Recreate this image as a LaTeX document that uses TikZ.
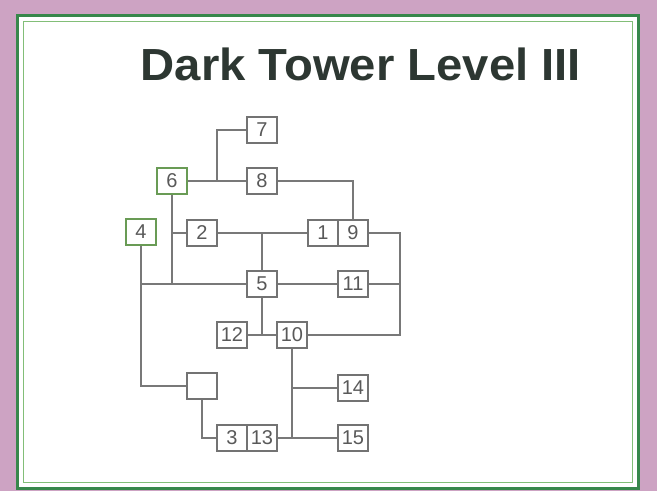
\documentclass[tikz,border=0pt]{standalone}
\usepackage{fontspec}
\setmainfont{Liberation Sans}
\usepackage{tikz}
\usetikzlibrary{calc}

\definecolor{backpink}{RGB}{205,163,195}
\definecolor{framegreen}{RGB}{55,135,75}
\definecolor{innergreen}{RGB}{130,190,120}
\definecolor{boxgrey}{RGB}{115,115,115}
\definecolor{wiregrey}{RGB}{120,120,120}
\definecolor{roomgreen}{RGB}{105,155,85}
\definecolor{titlegrey}{RGB}{45,55,50}

\tikzset{
    room/.style={draw=boxgrey, line width=1.3pt, fill=white, minimum width=30pt,
        minimum height=26pt, inner sep=0pt, text=black!65, font=\fontsize{20}{20}\selectfont},
    startroom/.style={room, draw=roomgreen},
    wire/.style={draw=wiregrey, line width=1.2pt}
}

\begin{document}
\begin{tikzpicture}[x=1pt,y=-1pt]
            \useasboundingbox (0,0) rectangle (657,491);
            \fill[backpink] (0,0) rectangle (657,491);
            \fill[white] (17,15) rectangle (638,488);
            \draw[framegreen, line width=3pt] (17,15) rectangle (638,488);
            \draw[innergreen, line width=0.8pt] (23,21) rectangle (632,482);

            \node[anchor=base west, text=titlegrey, xscale=1.05,
                font=\fontsize{45}{45}\selectfont\bfseries] (title) at (137,80) {Dark Tower Level III};

            % rooms
            \foreach \n/\x/\y in {7/262/130, 8/262/181, 2/202/233, 1/323/233, 9/353/233,
                5/262/284, 11/353/284, 12/232/335, 10/292/335, 14/353/388,
                3/232/438, 13/262/438, 15/353/438}{
                \node[room] (r\n) at (\x,\y) {\n};
            }
            \node[startroom] (r6) at (172,181) {6};
            \node[startroom] (r4) at (141,232) {4};
            \node[room] (rblank) at (202,386) {};

            \coordinate (j7) at ($(r6.east)!0.5!(r8.west)$);
            \coordinate (rail) at (400,284);

            \draw[wire] (r6) -- (r8);
            \draw[wire] (j7) |- (r7);
            \draw[wire] (r8) -| (r9);
            \draw[wire] (r6.south) -- (r6.south |- r5.west);
            \draw[wire] (r2.west) -- (r2.west -| r6.south);
            \draw[wire] (r4.south) |- (r5.west);
            \draw[wire] (r4.south) |- (rblank.west);
            \draw[wire] (r2) -- (r1);
            \draw[wire] (r5.north) -- (r5.north |- r2.east);
            \draw[wire] (r5) -- (r11);
            \draw[wire] (r11) -- (r11 -| rail);
            \draw[wire] (r9.east) -| (rail) |- (r10.east);
            \draw[wire] (r12) -- (r10);
            \draw[wire] (r5.south) -- (r5.south |- r10.west);
            \draw[wire] (r10.south) -- (r10.south |- r13.east);
            \draw[wire] (r14.west) -- (r14.west -| r10.south);
            \draw[wire] (r13) -- (r15);
            \draw[wire] (rblank.south) |- (r3.west);
        \end{tikzpicture}
\end{document}
